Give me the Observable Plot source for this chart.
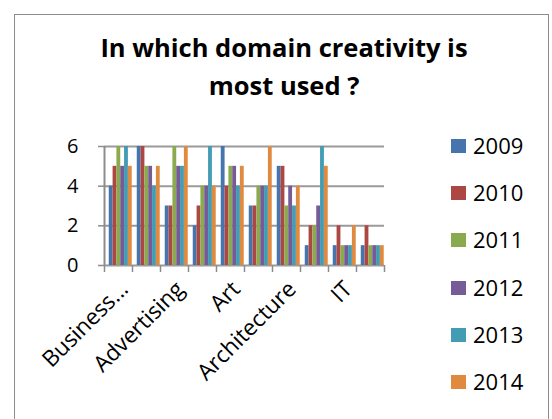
<!DOCTYPE html>
<html>
<head>
<meta charset="utf-8">
<script src="https://cdn.jsdelivr.net/npm/d3@7"></script>
<script src="https://cdn.jsdelivr.net/npm/@observablehq/plot@0.6"></script>
<style>
  body { margin: 0; background: #fff; }
  #wrap { position: relative; width: 552px; height: 419px; overflow: hidden; font-family: "Open Sans", sans-serif; background: #fff; }
  #border { position: absolute; left: 14px; top: 14px; width: 535px; height: 430px; border: 1.5px solid #8c8c8c; box-sizing: border-box; }
  #title { position: absolute; left: 0; top: 28px; width: 568px; text-align: center; font-weight: 700; font-size: 25.5px; line-height: 38px; color: #000; white-space: nowrap; }
  #chart { position: absolute; left: 0; top: 120px; }
  .lg { position: absolute; left: 451px; white-space: nowrap; font-size: 22px; line-height: 30px; color: #000; }
  .lg span.sw { position: absolute; left: 0; width: 15px; height: 14px; }
  .lg span.tx { position: absolute; left: 22px; top: 0; }
</style>
</head>
<body>
<div id="wrap">
  <div id="border"></div>
  <div id="title">In which domain creativity is<br>most used ?</div>
  <div id="chart"></div>
</div>
<script>
// Categories (only every other label is shown in the reference)
const categoryLabels = ["Business...", "", "Advertising", "", "Art", "", "Architecture", "", "IT", ""];
const years = ["2009", "2010", "2011", "2012", "2013", "2014"];
const colors = ["#4674AD", "#AD4744", "#8BAA50", "#765C96", "#439CB4", "#E08A3F"];
const yTicks = [0, 2, 4, 6];

// Values per year, one entry per category
const v2009 = [4, 6, 3, 2, 6, 3, 5, 1, 1, 1];
const v2010 = [5, 6, 3, 3, 4, 3, 5, 2, 2, 2];
const v2011 = [6, 5, 6, 4, 5, 4, 3, 2, 1, 1];
const v2012 = [5, 5, 5, 4, 5, 4, 4, 3, 1, 1];
const v2013 = [6, 4, 5, 6, 4, 4, 3, 6, 1, 1];
const v2014 = [5, 5, 6, 4, 5, 6, 4, 5, 2, 1];
const series = [v2009, v2010, v2011, v2012, v2013, v2014];

const rows = [];
categoryLabels.forEach((c, i) => {
  years.forEach((yr, j) => {
    rows.push({ cat: i, series: j, year: yr, value: series[j][i] });
  });
});

const groupStart = 0.17, groupWidth = 0.82;
const bw = groupWidth / years.length;

const chart = Plot.plot({
  width: 552,
  height: 299,
  marginLeft: 104,
  marginRight: 168,
  marginTop: 26,
  marginBottom: 154,
  style: { fontFamily: "'Open Sans', sans-serif", background: "transparent", color: "#000" },
  x: { domain: [0, categoryLabels.length], axis: null },
  y: { domain: [0, 6], axis: null },
  color: { domain: years, range: colors },
  marks: [
    Plot.ruleY(yTicks, { stroke: "#9a9a9a", strokeWidth: 2 }),
    Plot.rectY(rows, {
      x1: d => d.cat + groupStart + d.series * bw,
      x2: d => d.cat + groupStart + (d.series + 1) * bw,
      y: "value",
      fill: "year"
    }),
    Plot.ruleX([0], { stroke: "#8c8c8c", strokeWidth: 2 }),
    Plot.axisY({ ticks: yTicks, tickFormat: d => String(d), label: null, tickSize: 6, tickPadding: 20, fontSize: 20, stroke: "#8c8c8c", strokeWidth: 1.5 }),
    Plot.axisX({ ticks: d3.range(categoryLabels.length + 1), tickFormat: () => "", label: null, tickSize: 7, stroke: "#8c8c8c", strokeWidth: 1.5 }),
    Plot.text(categoryLabels, {
      x: (d, i) => i + 0.5,
      frameAnchor: "bottom",
      text: d => d,
      rotate: -45,
      textAnchor: "end",
      fontSize: 22.5,
      fill: "#000",
      dx: 11,
      dy: 25
    })
  ]
});
document.getElementById("chart").appendChild(chart);

// Legend
const wrap = document.getElementById("wrap");
years.forEach((yr, j) => {
  const row = document.createElement("div");
  row.className = "lg";
  const top = 130 + j * 47.2;
  row.style.top = top + "px";
  row.innerHTML = `<span class="sw" style="top:${9}px;background:${colors[j]}"></span><span class="tx">${yr}</span>`;
  wrap.appendChild(row);
});
</script>
</body>
</html>
